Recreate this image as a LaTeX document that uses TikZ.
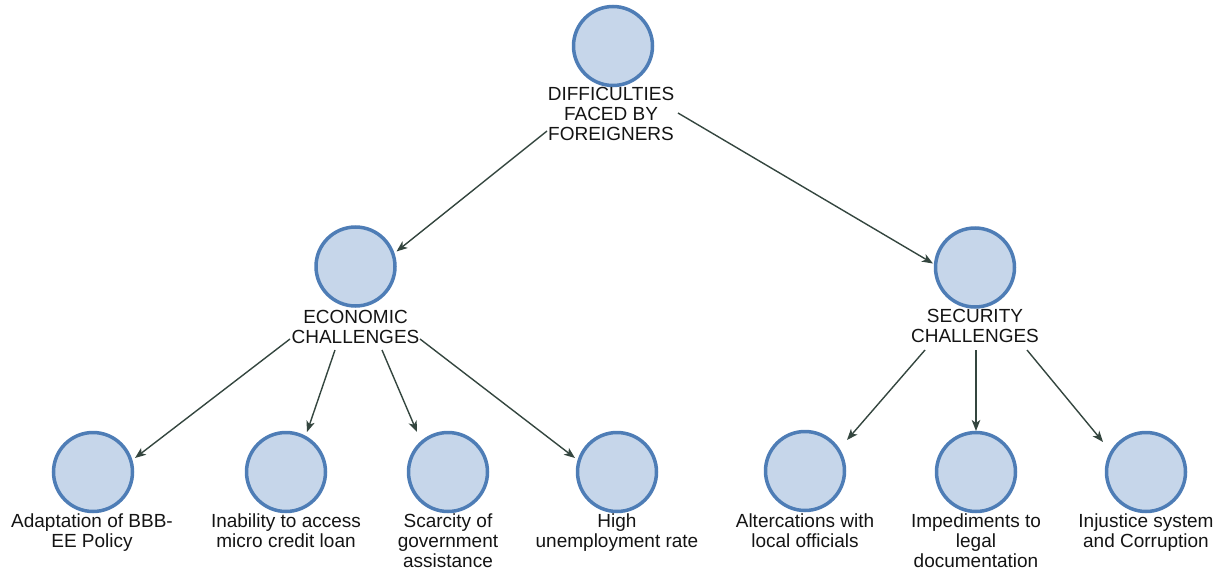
\documentclass[tikz,border=0pt]{standalone}
\usepackage{fontspec}
\setmainfont{Liberation Sans}
\usetikzlibrary{arrows.meta,calc}
\definecolor{circfill}{HTML}{C6D6EA}
\definecolor{circdraw}{HTML}{4E7DB6}
\definecolor{arrcol}{HTML}{34463F}
\definecolor{txtcol}{HTML}{141414}
\tikzset{
  bubble/.style={circle, draw=circdraw, fill=circfill, line width=3.5pt, minimum size=79pt, inner sep=0pt},
  lbl/.style={font=\fontsize{19}{20}\selectfont, align=center, inner sep=0pt, anchor=north, text=txtcol},
  arr/.style={draw=arrcol, line width=1.4pt, -{Stealth[length=11pt,width=8.5pt,inset=3pt]}}
}
\begin{document}
\begin{tikzpicture}[x=1pt,y=-1pt]
\useasboundingbox (0,0) rectangle (1227,570);
% circles
\node[bubble] (top) at (613,46) {};
\node[bubble] (econ) at (355.5,266.5) {};
\node[bubble] (sec) at (975,267.5) {};
\node[bubble] (adapt) at (93,472) {};
\node[bubble] (inab) at (286,472) {};
\node[bubble] (scar) at (448,472) {};
\node[bubble] (high) at (617,472) {};
\node[bubble] (alt) at (805,471) {};
\node[bubble] (imped) at (976,472) {};
\node[bubble] (injust) at (1146,472) {};
% labels
\node[lbl] (topL) at (611,86.5) {\strut DIFFICULTIES\\FACED BY\\FOREIGNERS};
\node[lbl] (econL) at (355.5,309) {\strut ECONOMIC\\CHALLENGES};
\node[lbl] (secL) at (975,308.5) {\strut SECURITY\\CHALLENGES};
\node[lbl] (adaptL) at (92,513) {\strut Adaptation of BBB-\\EE Policy};
\node[lbl] (inabL) at (286,513) {\strut Inability to access\\micro credit loan};
\node[lbl] (scarL) at (448,513) {\strut Scarcity of\\government\\assistance};
\node[lbl] (highL) at (617,513) {\strut High\\unemployment rate};
\node[lbl] (altL) at (805,513) {\strut Altercations with\\local officials};
\node[lbl] (impedL) at (976,513) {\strut Impediments to\\legal\\documentation};
\node[lbl] (injustL) at (1146,513) {\strut Injustice system\\and Corruption};
% connector start points
\coordinate (t1) at (547,131);
\coordinate (t2) at (678,113);
\coordinate (e1) at (290,339);
\coordinate (e2) at (335,350);
\coordinate (e3) at (382,350);
\coordinate (e4) at (420,339);
\coordinate (s1) at (925,350);
\coordinate (s2) at (976,350);
\coordinate (s3) at (1027,350);
% connectors
\draw[arr] (t1) -- ($(econ)+(41,-15)$);
\draw[arr] (t2) -- ($(sec)+(-42,-4)$);
\draw[arr] (e1) -- ($(adapt)+(42,-14)$);
\draw[arr] (e2) -- ($(inab)+(21,-40)$);
\draw[arr] (e3) -- ($(scar)+(-31,-40)$);
\draw[arr] (e4) -- ($(high)+(-42,-14)$);
\draw[arr] (s1) -- ($(alt)+(42,-31)$);
\draw[arr] (s2) -- ($(imped)+(0,-41)$);
\draw[arr] (s3) -- ($(injust)+(-43,-30)$);
\end{tikzpicture}
\end{document}
